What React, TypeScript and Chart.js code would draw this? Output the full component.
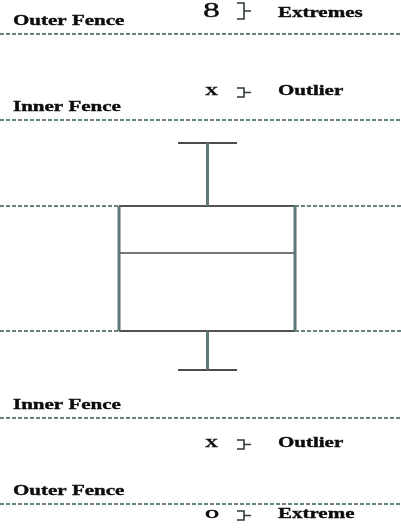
import React, { useEffect, useRef } from "react";
import { Chart, registerables } from "chart.js";

Chart.register(...registerables);

// ---- data ----
const fenceLabels = ["Outer Fence", "Inner Fence", "Inner Fence", "Outer Fence"];
const fenceValues = [49.4, 40.8, 11.0, 2.4];
const boxLabels = ["Lower whisker", "Q1", "Median", "Q3", "Upper whisker"];
const boxValues = [15.8, 19.7, 27.5, 32.2, 38.5];
const markerSymbols = ["8", "X", "X", "O"];
const markerLabels = ["Extremes", "Outlier", "Outlier", "Extreme"];
const markerValues = [51.1, 43.3, 8.1, 1.0];

// ---- layout (x in scale units 0..100) ----
const LAYOUT = {
  xMin: 0,
  xMax: 100,
  yMin: 0,
  yMax: 52.8,
  boxLeft: 29.68,
  boxRight: 73.57,
  center: 51.74,
  capHalf: 7.36,
  fenceLabelX: 3.24,
  markerX: 51.12,
  bracketX: 59.1,
  labelX: 69.3,
};
const STRETCH = 1.5;
const DASH_COLOR = "#678282";
const SIDE_COLOR = "#5f7777";

const seg = (x0: number, y0: number, x1: number, y1: number) => [
  { x: x0, y: y0 },
  { x: x1, y: y1 },
];

const lineDs = (data: any, color: string, width: number, dash: number[] = []) => ({
  type: "line" as const,
  data,
  borderColor: color,
  borderWidth: width,
  borderDash: dash,
  pointRadius: 0,
  fill: false,
  tension: 0,
  borderCapStyle: "butt" as const,
});

const annotPlugin = {
  id: "annot",
  afterDatasetsDraw(chart: any) {
    const { ctx } = chart;
    const xs = chart.scales.x;
    const ys = chart.scales.y;
    const txt = (s: string, px: number, py: number, font: string, stretch = STRETCH) => {
      ctx.save();
      ctx.font = font;
      ctx.fillStyle = "#0d0d0d";
      ctx.strokeStyle = "#0d0d0d";
      ctx.lineWidth = 0.35;
      ctx.textBaseline = "alphabetic";
      ctx.textAlign = "left";
      ctx.translate(px, py);
      ctx.scale(stretch, 1);
      ctx.fillText(s, 0, 0);
      ctx.strokeText(s, 0, 0);
      ctx.restore();
    };
    fenceValues.forEach((v, i) => {
      txt(
        fenceLabels[i],
        xs.getPixelForValue(LAYOUT.fenceLabelX),
        ys.getPixelForValue(v) - 9,
        "bold 14px 'Liberation Serif'"
      );
    });
    markerValues.forEach((v, i) => {
      const by = ys.getPixelForValue(v);
      const big = markerSymbols[i] === "8";
      const mx = xs.getPixelForValue(LAYOUT.markerX) - (big ? 2 : 0);
      txt(
        markerSymbols[i],
        mx,
        by,
        big ? "21px 'Liberation Serif'" : "bold 12.5px 'Liberation Serif'",
        big ? 1.6 : 1.45
      );
      const top = by - (big ? 14 : 7);
      const bot = by + 2;
      const x0 = xs.getPixelForValue(LAYOUT.bracketX);
      const x1 = x0 + 7;
      const x2 = x0 + 14;
      ctx.save();
      ctx.strokeStyle = "#2f3b3b";
      ctx.lineWidth = 1.6;
      ctx.beginPath();
      ctx.moveTo(x0, top);
      ctx.lineTo(x1, top);
      ctx.lineTo(x1, bot);
      ctx.lineTo(x0, bot);
      ctx.moveTo(x1, (top + bot) / 2);
      ctx.lineTo(x2, (top + bot) / 2);
      ctx.stroke();
      ctx.restore();
      txt(markerLabels[i], xs.getPixelForValue(LAYOUT.labelX), by, "bold 14px 'Liberation Serif'");
    });
  },
};

export default function App() {
  const ref = useRef<HTMLCanvasElement | null>(null);
  useEffect(() => {
    if (!ref.current) return;
    const [wMin, q1, med, q3, wMax] = boxValues;
    const { xMin, xMax, boxLeft, boxRight, center, capHalf } = LAYOUT;
    const datasets: any[] = [];
    fenceValues.forEach((v, i) =>
      datasets.push({ label: fenceLabels[i], ...lineDs(seg(xMin, v, xMax, v), DASH_COLOR, 1.8, [4, 2]) })
    );
    [q1, q3].forEach((v) => {
      datasets.push(lineDs(seg(xMin, v, boxLeft, v), DASH_COLOR, 1.8, [4, 2]));
      datasets.push(lineDs(seg(boxRight, v, xMax, v), DASH_COLOR, 1.8, [4, 2]));
    });
    // whiskers
    datasets.push(lineDs(seg(center, q3, center, wMax), SIDE_COLOR, 3));
    datasets.push(lineDs(seg(center, wMin, center, q1), SIDE_COLOR, 3));
    datasets.push(lineDs(seg(center - capHalf, wMax, center + capHalf, wMax), "#111", 1.3));
    datasets.push(lineDs(seg(center - capHalf, wMin, center + capHalf, wMin), "#111", 1.3));
    // box
    datasets.push(lineDs(seg(boxLeft, q1, boxLeft, q3), SIDE_COLOR, 3));
    datasets.push(lineDs(seg(boxRight, q1, boxRight, q3), SIDE_COLOR, 3));
    datasets.push(lineDs(seg(boxLeft, q3, boxRight, q3), "#1a1a1a", 1.3));
    datasets.push(lineDs(seg(boxLeft, q1, boxRight, q1), "#1a1a1a", 1.3));
    datasets.push({ label: boxLabels[2], ...lineDs(seg(boxLeft, med, boxRight, med), "#4a4a4a", 1.3) });

    const chart = new Chart(ref.current, {
      type: "line",
      data: { datasets },
      options: {
        animation: false,
        responsive: false,
        devicePixelRatio: 1,
        layout: { padding: 0 },
        plugins: { legend: { display: false }, tooltip: { enabled: false } },
        scales: {
          x: { type: "linear", min: LAYOUT.xMin, max: LAYOUT.xMax, display: false },
          y: { type: "linear", min: LAYOUT.yMin, max: LAYOUT.yMax, display: false },
        },
      },
      plugins: [annotPlugin],
    } as any);
    return () => chart.destroy();
  }, []);
  return (
    <div style={{ position: "fixed", left: 0, top: 0, width: 401, height: 528, background: "#fff" }}>
      <canvas ref={ref} width={401} height={528} />
    </div>
  );
}
